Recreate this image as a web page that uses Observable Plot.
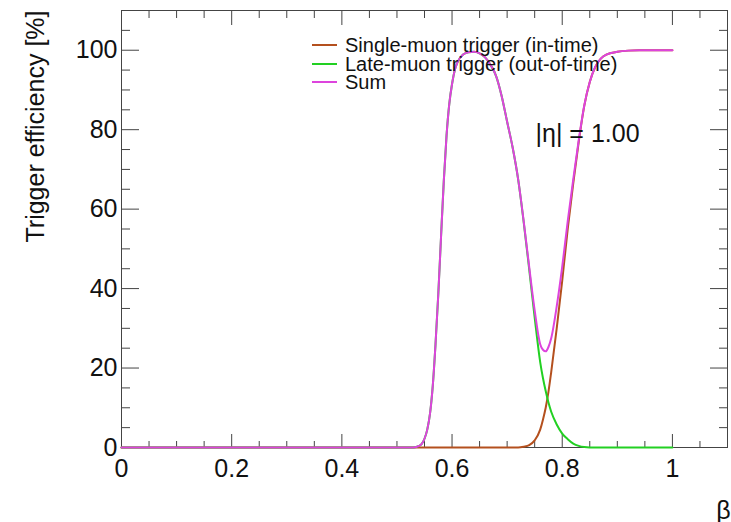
<!DOCTYPE html>
<html><head><meta charset="utf-8">
<script src="https://cdn.jsdelivr.net/npm/d3@7"></script>
<script src="https://cdn.jsdelivr.net/npm/@observablehq/plot@0.6"></script>
<style>
body{margin:0;background:#fff;}
#wrap{position:relative;width:731px;height:522px;font-family:"Liberation Sans",Arial,sans-serif;}
.leg{position:absolute;left:312px;top:36px;font-size:20px;line-height:18.5px;color:#111;}
.row{display:flex;align-items:center;white-space:nowrap;height:18.5px;}
.sw{width:25px;height:2px;margin-right:8px;}
</style></head>
<body><div id="wrap"></div>
<script>
const beta = [0, 0.50, 0.53, 0.54, 0.545, 0.55, 0.555, 0.56, 0.565, 0.57, 0.575, 0.58, 0.585, 0.59, 0.595, 0.60, 0.605, 0.61, 0.62, 0.63, 0.64, 0.65, 0.66, 0.67, 0.68, 0.69, 0.70, 0.71, 0.72, 0.73, 0.74, 0.75, 0.76, 0.765, 0.77, 0.775, 0.78, 0.79, 0.80, 0.81, 0.82, 0.83, 0.84, 0.85, 0.86, 0.87, 0.88, 0.90, 0.92, 0.94, 0.96, 1.0];
const singleMuon = [0,0,0,0,0,0,0,0,0,0,0,0,0,0,0,0,0,0,0,0,0,0,0,0,0,0,0,0,0,
  0.2,0.6,1.8,4.5,7,10,14,19,30,42,55,66.5,77,86,92,95.8,97.9,98.9,99.6,99.9,100,100,100];
const lateMuon = [0,0,0,0.4,0.9,2.2,4.5,8.5,15.5,26,38.5,53,67,78.5,86.5,91.5,95,97,98.9,99.5,99.6,99.2,98.2,96.3,93.5,88.5,82,75.5,67.5,
  56.8,44.9,32.7,21.5,17.5,14.2,11.3,9,5.8,3.5,2.1,1.0,0.4,0.1,0,0,0,0,0,0,0,0,0];
const sumEff = [0,0,0,0.4,0.9,2.2,4.5,8.5,15.5,26,38.5,53,67,78.5,86.5,91.5,95,97,98.9,99.5,99.6,99.2,98.2,96.3,93.5,88.5,82,75.5,67.5,
  57,45.5,34.5,26,24.6,24.2,25.3,27.5,35.5,45.5,57,67.5,77.4,86.1,92,95.8,97.9,98.9,99.6,99.9,100,100,100];

const seriesNames = ["Single-muon trigger (in-time)", "Late-muon trigger (out-of-time)", "Sum"];
const seriesColors = ["#b4501e", "#22d022", "#dd44dd"];
const xTickLabels = [0, 0.2, 0.4, 0.6, 0.8, 1];
const yTickLabels = [0, 20, 40, 60, 80, 100];
const xMinor = d3.range(0, 23).map(i => +(i * 0.05).toFixed(2)).filter(v => Math.round(v * 100) % 20 !== 0);
const yMinor = d3.range(0, 23).map(i => i * 5).filter(v => v % 20 !== 0);
const yTitle = "Trigger efficiency [%]";
const xTitle = "β";
const annotation = "|η| = 1.00";

const series = [singleMuon, lateMuon, sumEff];
const rows = series.flatMap((vals, s) => beta.map((b, i) => ({b, v: vals[i], s})));

const H = 522 - 10 - 75;
const W = 731 - 121 - 4;
const tickCol = "#444";

const chart = Plot.plot({
  width: 731, height: 522,
  marginLeft: 121, marginRight: 4, marginTop: 10, marginBottom: 75,
  x: {domain: [0, 1.1]},
  y: {domain: [0, 110]},
  style: {fontFamily: "Liberation Sans, Arial, sans-serif", background: "white", color: "#111"},
  marks: [
    Plot.axisX({ticks: xTickLabels, tickSize: 0, tickPadding: 12, fontSize: 25, tickFormat: d => String(d), label: null}),
    Plot.axisY({ticks: yTickLabels, tickSize: 0, tickPadding: 4, fontSize: 25, tickFormat: d => String(d), label: null}),
    // bottom ticks
    Plot.tickX(xTickLabels, {x: d => d, insetTop: H - 13, stroke: tickCol}),
    Plot.tickX(xMinor, {x: d => d, insetTop: H - 6, stroke: tickCol}),
    // top ticks
    Plot.tickX(xTickLabels, {x: d => d, insetBottom: H - 15, stroke: tickCol}),
    Plot.tickX(xMinor, {x: d => d, insetBottom: H - 8, stroke: tickCol}),
    // left ticks
    Plot.tickY(yTickLabels, {y: d => d, insetRight: W - 18, stroke: tickCol}),
    Plot.tickY(yMinor, {y: d => d, insetRight: W - 9, stroke: tickCol}),
    // right ticks
    Plot.tickY(yTickLabels, {y: d => d, insetLeft: W - 17, stroke: tickCol}),
    Plot.tickY(yMinor, {y: d => d, insetLeft: W - 8, stroke: tickCol}),
    Plot.frame({stroke: tickCol}),
    ...series.map((vals, s) => Plot.line(rows.filter(r => r.s === s), {x: "b", y: "v", stroke: seriesColors[s], strokeWidth: 2, curve: "monotone-x"})),
    Plot.text([yTitle], {frameAnchor: "top-left", rotate: -90, textAnchor: "end", lineAnchor: "middle", dx: -86, dy: 0, fontSize: 25, fill: "#111"}),
    Plot.text([xTitle], {frameAnchor: "bottom-right", textAnchor: "middle", lineAnchor: "middle", dx: -4, dy: 63, fontSize: 25, fill: "#111"}),
    Plot.text([annotation], {frameAnchor: "top-left", textAnchor: "start", lineAnchor: "middle", dx: 414, dy: 123, fontSize: 25, fill: "#111"})
  ]
});

const wrap = document.getElementById("wrap");
wrap.appendChild(chart);
const leg = document.createElement("div");
leg.className = "leg";
seriesNames.forEach((n, i) => {
  const row = document.createElement("div");
  row.className = "row";
  const sw = document.createElement("span");
  sw.className = "sw";
  sw.style.background = seriesColors[i];
  const t = document.createElement("span");
  t.textContent = n;
  row.appendChild(sw); row.appendChild(t);
  leg.appendChild(row);
});
wrap.appendChild(leg);
</script>
</body></html>
